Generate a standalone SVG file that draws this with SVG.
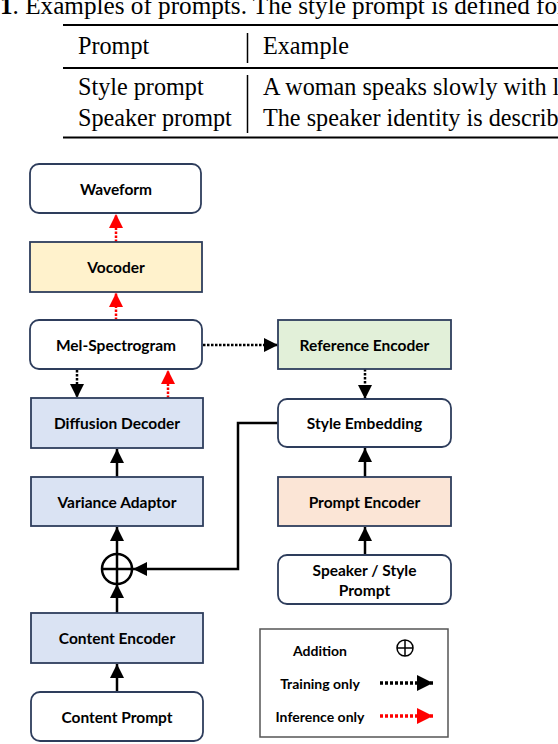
<svg xmlns="http://www.w3.org/2000/svg" width="558" height="744" viewBox="0 0 558 744">
<defs>
<style>
.cap{font-family:"Liberation Serif","Times New Roman",serif;font-size:24.2px;fill:#000}
.rule{stroke:#000;stroke-width:2}
.vbar{stroke:#000;stroke-width:1.5}
.lbl{font-family:Lato,"Liberation Sans",sans-serif;font-weight:bold;font-size:15.5px;fill:#000;text-anchor:middle;dominant-baseline:central}
.leg{font-family:Lato,"Liberation Sans",sans-serif;font-weight:bold;font-size:14px;fill:#000;text-anchor:middle;dominant-baseline:central}
.box{stroke:#2E3D5C;stroke-width:1.8}
.solid{stroke:#000;stroke-width:2.5;fill:none}
.train{stroke:#000;stroke-width:2.5;fill:none;stroke-dasharray:2.5 1.5}
.infer{stroke:#FF0000;stroke-width:2.5;fill:none;stroke-dasharray:2.5 1.5}
.ltrain{stroke:#000;stroke-width:3.5;fill:none;stroke-dasharray:3 2}
.linfer{stroke:#FF0000;stroke-width:3.5;fill:none;stroke-dasharray:3 2}
</style>
<marker id="ab" viewBox="0 0 14 14" refX="14" refY="7" markerWidth="14" markerHeight="14" markerUnits="userSpaceOnUse" orient="auto"><path d="M0,0 L14,7 L0,14 Z" fill="#000"/></marker>
<marker id="ar" viewBox="0 0 14 14" refX="14" refY="7" markerWidth="14" markerHeight="14" markerUnits="userSpaceOnUse" orient="auto"><path d="M0,0 L14,7 L0,14 Z" fill="#FF0000"/></marker>
<marker id="abl" viewBox="0 0 16 16" refX="16" refY="8" markerWidth="16" markerHeight="16" markerUnits="userSpaceOnUse" orient="auto"><path d="M0,0 L16,8 L0,16 Z" fill="#000"/></marker>
<marker id="arl" viewBox="0 0 16 16" refX="16" refY="8" markerWidth="16" markerHeight="16" markerUnits="userSpaceOnUse" orient="auto"><path d="M0,0 L16,8 L0,16 Z" fill="#FF0000"/></marker>
</defs>
<g id="table">
<text class="cap" x="0" y="14" style="font-size:25.2px"><tspan font-weight="bold">1</tspan>. Examples of prompts. The style prompt is defined for</text>
<line class="rule" x1="63" y1="25" x2="558" y2="25"/>
<line class="rule" x1="63" y1="68" x2="558" y2="68"/>
<line class="rule" x1="63" y1="137.5" x2="558" y2="137.5"/>
<line class="vbar" x1="247.5" y1="33" x2="247.5" y2="63"/>
<line class="vbar" x1="247.5" y1="75" x2="247.5" y2="133"/>
<text class="cap" x="78" y="53.5">Prompt</text>
<text class="cap" x="263" y="53.5">Example</text>
<text class="cap" x="78" y="95">Style prompt</text>
<text class="cap" x="78" y="126">Speaker prompt</text>
<text class="cap" x="263" y="95">A woman speaks slowly with l</text>
<text class="cap" x="263" y="126">The speaker identity is describ</text>
</g>
<g id="connectors">
<line class="infer" x1="116" y1="242" x2="116" y2="214" marker-end="url(#ar)"/>
<line class="infer" x1="116" y1="320" x2="116" y2="293" marker-end="url(#ar)"/>
<line class="train" x1="77" y1="370" x2="77" y2="398" marker-end="url(#ab)"/>
<line class="infer" x1="168" y1="398" x2="168" y2="370" marker-end="url(#ar)"/>
<line class="train" x1="203" y1="345" x2="278" y2="345" marker-end="url(#ab)"/>
<line class="train" x1="365" y1="369" x2="365" y2="399" marker-end="url(#ab)"/>
<line class="solid" x1="365" y1="477" x2="365" y2="448" marker-end="url(#ab)"/>
<line class="solid" x1="365" y1="555" x2="365" y2="527" marker-end="url(#ab)"/>
<polyline class="solid" points="278,423 238,423 238,569 133,569" marker-end="url(#ab)"/>
<line class="solid" x1="117" y1="477" x2="117" y2="449" marker-end="url(#ab)"/>
<line class="solid" x1="117" y1="554" x2="117" y2="527" marker-end="url(#ab)"/>
<line class="solid" x1="117" y1="613" x2="117" y2="584" marker-end="url(#ab)"/>
<line class="solid" x1="117" y1="692" x2="117" y2="664" marker-end="url(#ab)"/>
</g>
<g id="waveform"><rect class="box" x="30" y="164" width="171" height="49" rx="9" fill="#fff"/><text class="lbl" x="116" y="188.5">Waveform</text></g>
<g id="vocoder"><rect class="box" x="30" y="242" width="172" height="50" fill="#FFF2CC"/><text class="lbl" x="116" y="267">Vocoder</text></g>
<g id="mel"><rect class="box" x="30" y="320" width="172" height="49" rx="9" fill="#fff"/><text class="lbl" x="116" y="344.5">Mel-Spectrogram</text></g>
<g id="diffusion"><rect class="box" x="31" y="398" width="172" height="50" fill="#DAE3F3"/><text class="lbl" x="117" y="423">Diffusion Decoder</text></g>
<g id="variance"><rect class="box" x="31" y="477" width="172" height="49" fill="#DAE3F3"/><text class="lbl" x="117" y="501.5">Variance Adaptor</text></g>
<g id="addition"><circle cx="117" cy="569" r="15" fill="#fff" stroke="#000" stroke-width="2.5"/><line x1="102" y1="569" x2="132" y2="569" stroke="#000" stroke-width="2.5"/><line x1="117" y1="554" x2="117" y2="584" stroke="#000" stroke-width="2.5"/></g>
<g id="content-encoder"><rect class="box" x="31" y="613" width="172" height="50" fill="#DAE3F3"/><text class="lbl" x="117" y="638">Content Encoder</text></g>
<g id="content-prompt"><rect class="box" x="31" y="692" width="172" height="49" rx="9" fill="#fff"/><text class="lbl" x="117" y="716.5">Content Prompt</text></g>
<g id="reference-encoder"><rect class="box" x="278" y="320" width="173" height="49" fill="#E2F0D9"/><text class="lbl" x="364.5" y="344.5">Reference Encoder</text></g>
<g id="style-embedding"><rect class="box" x="278" y="399" width="173" height="48" rx="9" fill="#fff"/><text class="lbl" x="364.5" y="423">Style Embedding</text></g>
<g id="prompt-encoder"><rect class="box" x="278" y="477" width="173" height="49" fill="#FBE5D6"/><text class="lbl" x="364.5" y="501.5">Prompt Encoder</text></g>
<g id="speaker-style-prompt"><rect class="box" x="278" y="555" width="173" height="49" rx="9" fill="#fff"/><text class="lbl" x="364.5" y="570">Speaker / Style</text><text class="lbl" x="364.5" y="590">Prompt</text></g>
<g id="legend">
<rect x="260" y="629" width="188" height="108" fill="#fff" stroke="#555" stroke-width="1.5"/>
<text class="leg" x="320" y="650">Addition</text>
<circle cx="405" cy="648" r="8" fill="none" stroke="#000" stroke-width="1.5"/>
<line x1="397" y1="648" x2="413" y2="648" stroke="#000" stroke-width="1.5"/>
<line x1="405" y1="640" x2="405" y2="656" stroke="#000" stroke-width="1.5"/>
<text class="leg" x="320" y="683">Training only</text>
<line class="ltrain" x1="380" y1="683" x2="433" y2="683" marker-end="url(#abl)"/>
<text class="leg" x="320" y="716">Inference only</text>
<line class="linfer" x1="380" y1="716" x2="433" y2="716" marker-end="url(#arl)"/>
</g>
</svg>
